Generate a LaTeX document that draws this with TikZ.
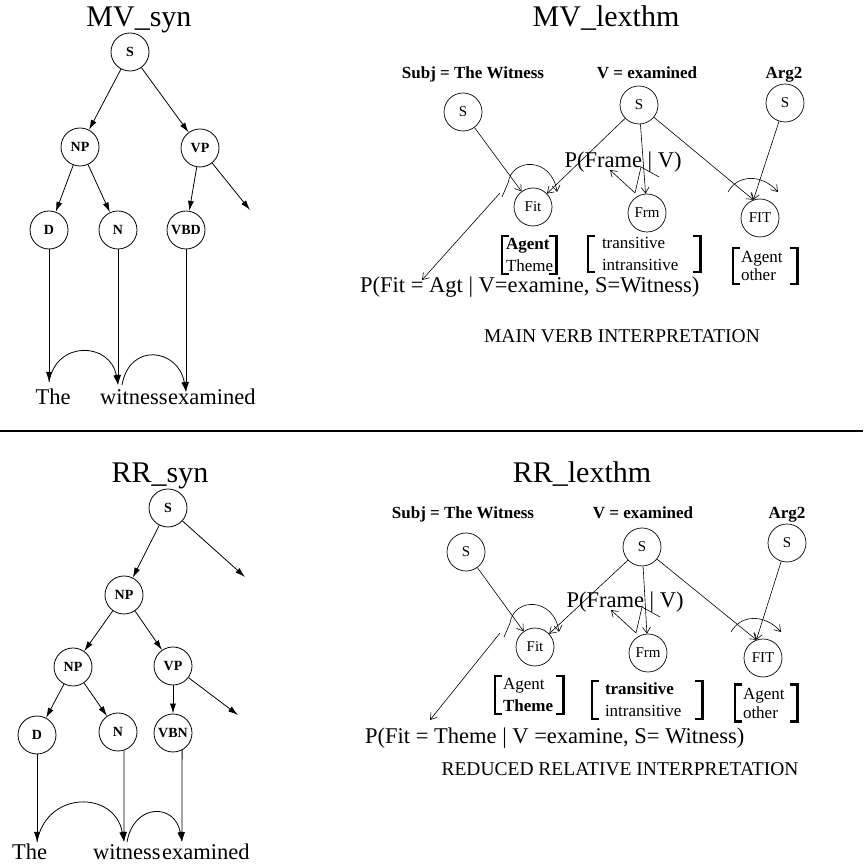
\documentclass[tikz,border=0pt]{standalone}
\usepackage{fontspec}
\setmainfont{Liberation Serif}
\usetikzlibrary{arrows.meta}

\begin{document}
\begin{tikzpicture}[
  x=1pt, y=1pt,
  tnode/.style={circle, draw, line width=0.8pt, minimum size=38pt, inner sep=0pt, font=\bfseries\fontsize{14}{16}\selectfont},
  lnode/.style={circle, draw, line width=0.7pt, minimum size=38pt, inner sep=0pt, font=\fontsize{15}{17}\selectfont},
  title/.style={anchor=base, font=\fontsize{30}{36}\selectfont},
  head/.style={anchor=base, font=\bfseries\fontsize{17}{20}\selectfont},
  word/.style={anchor=base west, inner sep=0pt, font=\fontsize{22.5}{27}\selectfont},
  prob/.style={inner sep=0pt, font=\fontsize{22.5}{27}\selectfont},
  caption/.style={anchor=base, font=\fontsize{19.5}{23}\selectfont},
  fbox/.style={align=left, inner xsep=8pt, inner ysep=2pt, font=\fontsize{17}{22}\selectfont},
  tarr/.style={-{Latex[length=10pt,width=6pt]}, line width=0.8pt},
  narr/.style={-{Straight Barb[length=6pt,width=8pt]}, line width=0.6pt},
  brk/.style={line width=2.6pt}
]
\useasboundingbox (0,0) rectangle (863,866);

% Titles
\node[title] (mvsyn) at (139,839) {MV\_syn};
\node[title] (mvlex) at (606,839) {MV\_lexthm};
\node[title] (rrsyn) at (160,383) {RR\_syn};
\node[title] (rrlex) at (582,383) {RR\_lexthm};

% Divider
\draw[line width=2pt] (0,435) -- (863,435);

% MV syntax tree
\node[tnode] (s1) at (130,814) {S};
\node[tnode] (np1) at (80,719) {NP};
\node[tnode] (vp1) at (200,718) {VP};
\node[tnode] (d1) at (49,636) {D};
\node[tnode] (n1) at (118,636) {N};
\node[tnode] (vbd) at (186,636) {VBD};
\coordinate (vp1x) at (250,656);

\node[word, anchor=base] (the1) at (53,461) {The};
\node[word] (wit1) at (100,461) {witness};
\node[word] (exm1) at (wit1.base east) {examined};
\coordinate (t1) at (49,484);
\coordinate (t2) at (118,481);
\coordinate (t3) at (186,474);

\draw[tarr] (s1) -- (np1);
\draw[tarr] (s1) -- (vp1);
\draw[tarr] (np1) -- (d1);
\draw[tarr] (np1) -- (n1);
\draw[tarr] (vp1) -- (vbd);
\draw[tarr] (vp1) -- (vp1x);
\draw[tarr] (d1) -- (t1);
\draw[tarr] (n1) -- (t2);
\draw[tarr] (vbd) -- (t3);
\draw[tarr] (t1) to[out=80, in=100, looseness=1.6] (t2);
\draw[tarr] ([xshift=4pt]t2) to[out=80, in=100, looseness=1.75] (t3);

% RR syntax tree
\node[tnode] (s2) at (168,358) {S};
\node[tnode] (np2) at (124,271) {NP};
\node[tnode] (np3) at (73,199) {NP};
\node[tnode] (vp2) at (173,200) {VP};
\node[tnode] (d2) at (37,131) {D};
\node[tnode] (n2) at (118,134) {N};
\node[tnode] (vbn) at (173,133) {VBN};
\coordinate (s2x) at (245,289);
\coordinate (vp2x) at (238,151);

\node[word] (the2) at (12,6) {The};
\node[word] (wit2) at (93,6) {witness};
\node[word] (exm2) at (162,6) {examined};
\coordinate (u1) at (37,24);
\coordinate (u2) at (124,24);
\coordinate (u3) at (182,24);

\draw[tarr] (s2) -- (np2);
\draw[tarr] (s2) -- (s2x);
\draw[tarr] (np2) -- (np3);
\draw[tarr] (np2) -- (vp2);
\draw[tarr] (np3) -- (d2);
\draw[tarr] (np3) -- (n2);
\draw[tarr] (vp2) -- (vbn);
\draw[tarr] (vp2) -- (vp2x);
\draw[tarr] (d2) -- (u1);
\draw[tarr] (n2.-72) -- (u2);
\draw[tarr] (vbn.-62) -- (u3);
\draw[tarr] (u1) to[out=80, in=100, looseness=1.55] (u2);
\draw[tarr] ([xshift=3pt]u2) to[out=80, in=100, looseness=1.85] (u3);

% MV lexical network
\node[head] (subj1) at (473,787) {Subj = The Witness};
\node[head] (verb1) at (647,787) {V = examined};
\node[head] (arg1) at (784,787) {Arg2};
\node[lnode] (ss1) at (463,754) {S};
\node[lnode] (sv1) at (639,761) {S};
\node[lnode] (sa1) at (785,763) {S};
\node[lnode] (fit1) at (533,659) {Fit};
\node[lnode] (frm1) at (647,653) {Frm};
\node[lnode] (fitb1) at (760,648) {FIT};

\node[prob, anchor=base] (pfrm1) at (623,698) {P(Frame | V)};
\node[prob, anchor=base west] (pfit1) at (360,573) {P(Fit = Agt | V=examine, S=Witness)};
\node[caption] (mvcap) at (622,523) {MAIN VERB INTERPRETATION};

\node[fbox, text width=46pt, inner xsep=4pt] (agt1) at (529,611) {\textbf{Agent}\\Theme};
\node[fbox, text width=84pt, inner xsep=14pt, inner ysep=1pt] (trn1) at (644,612) {transitive\\intransitive};
\node[fbox, text width=48pt, font=\fontsize{17}{18}\selectfont, inner ysep=3pt] (oth1) at (765,600) {Agent\\other};

\draw[narr] (ss1) -- (fit1);
\draw[narr] (sv1) -- (fit1);
\draw[narr] (sv1) -- (frm1);
\draw[narr] (sv1) -- (fitb1.110);
\draw[narr] (sa1) -- (fitb1.110);
\draw[narr] ([shift={(-33,14)}]fit1.center) -- ([shift={(62,13)}]pfit1.base west);

% RR lexical network
\node[head] (subj2) at (463,347) {Subj = The Witness};
\node[head] (verb2) at (643,347) {V = examined};
\node[head] (arg2) at (787,347) {Arg2};
\node[lnode] (ss2) at (466,314) {S};
\node[lnode] (sv2) at (642,319) {S};
\node[lnode] (sa2) at (787,323) {S};
\node[lnode] (fit2) at (535,219) {Fit};
\node[lnode] (frm2) at (648,213) {Frm};
\node[lnode] (fitb2) at (763,208) {FIT};

\node[prob, anchor=base] (pfrm2) at (625,258) {P(Frame | V)};
\node[prob, anchor=base west] (pfit2) at (365,122) {P(Fit = Theme | V =examine, S= Witness)};
\node[caption] (rrcap) at (620,90) {REDUCED RELATIVE INTERPRETATION};

\node[fbox, text width=52pt] (agt2) at (529,171) {Agent\\\textbf{Theme}};
\node[fbox, text width=84pt, inner xsep=13pt] (trn2) at (647,166) {\textbf{transitive}\\intransitive};
\node[fbox, text width=46pt, font=\fontsize{17}{19}\selectfont, inner ysep=3pt] (oth2) at (766,163) {Agent\\other};

\draw[narr] (ss2) -- (fit2);
\draw[narr] (sv2) -- (fit2);
\draw[narr] (sv2) -- (frm2);
\draw[narr] (sv2) -- (fitb2.110);
\draw[narr] (sa2) -- (fitb2.110);
\draw[narr] ([shift={(-35,14)}]fit2.center) -- ([shift={(65,24)}]pfit2.base west);

% Self loops
\foreach \f in {fit1,fit2}
  \draw[narr, shift={(\f)}] (-31,10) -- (-25,24) .. controls (-21,50) and (19,50) .. (24,15);
\foreach \f in {frm1,frm2} {
  \draw[narr, shift={(\f)}] (-12,20) -- (-37,43);
  \draw[line width=0.6pt, shift={(\f)}] (12,36) -- (-6,46) -- (-12,20);
}
\foreach \f in {fitb1,fitb2}
  \draw[narr, shift={(\f)}] (-32,26) .. controls (-22,44) and (2,44) .. (18,26);

% Brackets
\foreach \b in {agt1,trn1,oth1,agt2,trn2,oth2} {
  \draw[brk] ([xshift=7pt]\b.north west) -- (\b.north west) -- (\b.south west) -- ([xshift=7pt]\b.south west);
  \draw[brk] ([xshift=-7pt]\b.north east) -- (\b.north east) -- (\b.south east) -- ([xshift=-7pt]\b.south east);
}

\end{tikzpicture}
\end{document}
